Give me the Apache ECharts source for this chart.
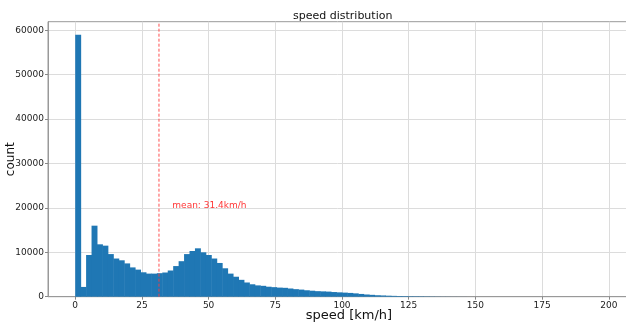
<!DOCTYPE html>
<html>
<head>
<meta charset="utf-8">
<script src="https://cdn.jsdelivr.net/npm/echarts@6/dist/echarts.min.js"></script>
<style>html,body{margin:0;padding:0;background:#fff}#c{width:626px;height:323px}</style>
</head>
<body>
<div id="c"></div>
<script>
const binWidth = 2.04;
const counts = [
  59000, 2200, 9400, 16000, 11800, 11500, 9600, 8600, 8200, 7500,
  6600, 6100, 5500, 5200, 5200, 5300, 5450, 5900, 6900, 8000,
  9600, 10300, 10900, 10000, 9400, 8600, 7600, 6400, 5200, 4500,
  3800, 3200, 2800, 2550, 2450, 2250, 2150, 2050, 2000, 1850,
  1700, 1600, 1450, 1350, 1250, 1200, 1150, 1050, 980, 920,
  850, 750, 620, 500, 420, 330, 280, 230, 190, 150,
  130, 110, 100, 90, 70, 50, 35, 25, 20, 15,
  10, 8, 6, 5, 4, 3, 3, 2, 2, 2,
  1, 1, 1, 1, 0, 1, 0, 0, 1, 0,
  0, 0, 0, 1, 0, 0, 0, 0, 0, 1
];
const meanSpeed = 31.4;
const meanLabel = 'mean: 31.4km/h';
const meanLabelPos = [36.4, 20000];
const xTicks = [0, 25, 50, 75, 100, 125, 150, 175, 200];
const yTicks = [0, 10000, 20000, 30000, 40000, 50000, 60000];
const yMax = 61950;
const titleText = 'speed distribution';
const xName = 'speed [km/h]';
const yName = 'count';

const bins = counts.map((c, i) => [i * binWidth, (i + 1) * binWidth, c]);

const chart = echarts.init(document.getElementById('c'), null, {renderer: 'canvas'});
const font = 'DejaVu Sans';
chart.setOption({
  animation: false,
  backgroundColor: '#fff',
  title: {
    text: titleText, left: 288, top: 6,
    textStyle: {fontFamily: font, fontSize: 11, fontWeight: 'normal', color: '#111'}
  },
  grid: {left: 48, right: -2, top: 21.7, bottom: 26.3, show: true, borderColor: '#999', borderWidth: 1,
         containLabel: false, outerBoundsMode: 'none'},
  xAxis: {
    type: 'value', min: -10.2, max: 207.2,
    name: xName, nameLocation: 'middle', nameGap: 12, nameMoveOverlap: false,
    nameTextStyle: {fontFamily: font, fontSize: 13, color: '#111', padding: [0, 0, 0, 22]},
    axisLine: {show: true, onZero: false, lineStyle: {color: '#999', width: 1}},
    axisTick: {show: true, customValues: xTicks, length: 3, lineStyle: {color: '#888'}},
    axisLabel: {customValues: xTicks, fontFamily: font, fontSize: 9, color: '#222', margin: 4},
    splitLine: {show: true, lineStyle: {color: '#dcdcdc', width: 1}}
  },
  yAxis: {
    type: 'value', min: 0, max: yMax,
    name: yName, nameLocation: 'middle', nameGap: 31, nameRotate: 90, nameMoveOverlap: false,
    nameTextStyle: {fontFamily: font, fontSize: 12, color: '#111'},
    axisLine: {show: true, onZero: false, lineStyle: {color: '#999', width: 1}},
    axisTick: {show: true, customValues: yTicks, length: 3, lineStyle: {color: '#888'}},
    axisLabel: {customValues: yTicks, fontFamily: font, fontSize: 9, color: '#222', margin: 4,
                formatter: v => String(v)},
    splitLine: {show: true, lineStyle: {color: '#dcdcdc', width: 1}}
  },
  series: [
    {
      type: 'custom',
      data: bins,
      encode: {x: [0, 1], y: 2},
      renderItem: function (params, api) {
        const p0 = api.coord([api.value(0), api.value(2)]);
        const p1 = api.coord([api.value(1), 0]);
        return {
          type: 'rect',
          shape: {x: p0[0], y: p0[1], width: p1[0] - p0[0] + 0.5, height: p1[1] - p0[1]},
          style: {fill: '#1f77b4'}
        };
      },
      z: 2
    },
    {
      type: 'line',
      data: [[meanSpeed, 0], [meanSpeed, yMax]],
      symbol: 'none',
      silent: true,
      lineStyle: {type: [3, 2], color: '#ff3b3b', width: 1, opacity: 0.9},
      z: 4
    },
    {
      type: 'scatter',
      data: [meanLabelPos],
      symbolSize: 0,
      silent: true,
      label: {
        show: true, position: [0, 2], align: 'left', verticalAlign: 'bottom',
        formatter: meanLabel, fontFamily: font, fontSize: 9, color: '#ff0000'
      },
      z: 5
    }
  ]
});
</script>
</body>
</html>
